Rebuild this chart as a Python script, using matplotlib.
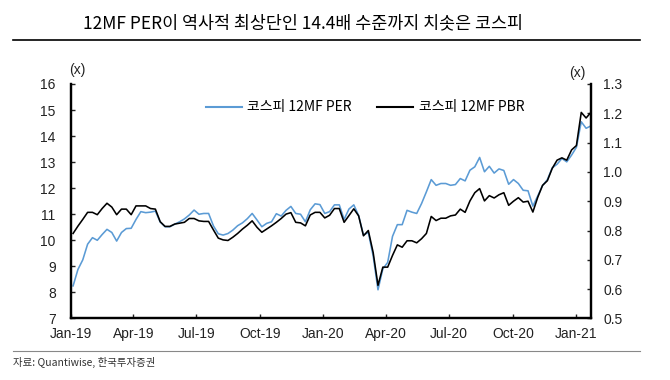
import matplotlib
matplotlib.use("Agg")
import matplotlib.pyplot as plt
from matplotlib.lines import Line2D
import pandas as pd

plt.rcParams['font.family'] = ['Noto Sans CJK KR', 'DejaVu Sans']

# weekly data, 2019-01-04 .. 2021-01-22
dates = pd.date_range('2019-01-04', periods=108, freq='7D')

per = [8.25, 8.88, 9.25, 9.85, 10.1, 10.0, 10.22, 10.42, 10.3, 9.97,
       10.3, 10.45, 10.46, 10.8, 11.1, 11.06, 11.08, 11.12, 10.7, 10.52,
       10.52, 10.62, 10.71, 10.82, 10.97, 11.16, 11.0, 11.03, 11.03, 10.55,
       10.25, 10.2, 10.26, 10.39, 10.56, 10.67, 10.83, 11.03, 10.78, 10.52,
       10.65, 10.71, 11.02, 10.93, 11.15, 11.3, 11.03, 11.0, 10.71, 11.17,
       11.4, 11.37, 11.03, 11.1, 11.36, 11.36, 10.8, 11.2, 11.36, 10.95,
       10.2, 10.3, 9.4, 8.1, 8.9, 9.15, 10.15, 10.6, 10.6, 11.15,
       11.08, 11.03, 11.41, 11.86, 12.33, 12.11, 12.18, 12.18, 12.11, 12.14,
       12.37, 12.28, 12.69, 12.82, 13.18, 12.63, 12.84, 12.58, 12.74, 12.68,
       12.15, 12.33, 12.18, 11.92, 11.9, 11.31, 11.7, 12.1, 12.33, 12.78,
       12.92, 13.14, 13.01, 13.27, 13.57, 14.55, 14.3, 14.39]

pbr = [0.79, 0.815, 0.838, 0.862, 0.862, 0.854, 0.875, 0.893, 0.88, 0.854,
       0.873, 0.873, 0.854, 0.884, 0.884, 0.884, 0.875, 0.873, 0.83, 0.814,
       0.814, 0.822, 0.825, 0.828, 0.841, 0.841, 0.833, 0.831, 0.831, 0.802,
       0.774, 0.768, 0.766, 0.777, 0.79, 0.805, 0.818, 0.833, 0.811, 0.794,
       0.805, 0.816, 0.828, 0.841, 0.856, 0.861, 0.828, 0.826, 0.816, 0.853,
       0.862, 0.862, 0.843, 0.852, 0.875, 0.875, 0.828, 0.851, 0.874, 0.85,
       0.782, 0.80, 0.725, 0.613, 0.675, 0.675, 0.715, 0.751, 0.743, 0.765,
       0.765, 0.758, 0.772, 0.79, 0.848, 0.834, 0.842, 0.842, 0.85, 0.853,
       0.873, 0.862, 0.901, 0.929, 0.943, 0.901, 0.919, 0.911, 0.922, 0.929,
       0.886, 0.9, 0.912, 0.897, 0.9, 0.863, 0.913, 0.954, 0.97, 1.012,
       1.04, 1.048, 1.04, 1.075, 1.09, 1.203, 1.184, 1.203]

xticks = pd.date_range('2019-01-01', '2021-01-01', freq='QS')
xlabels = ['Jan-19', 'Apr-19', 'Jul-19', 'Oct-19', 'Jan-20',
           'Apr-20', 'Jul-20', 'Oct-20', 'Jan-21']

blue = '#5b9bd5'
tickfont = ['Liberation Sans', 'DejaVu Sans']

fig = plt.figure(figsize=(6.7, 3.8), dpi=100)
ax = fig.add_axes([0.106, 0.162, 0.776, 0.617])
ax2 = ax.twinx()

ax.plot(dates, per, color=blue, lw=1.15)
ax2.plot(dates, pbr, color='black', lw=1.15)

ax.set_xlim(pd.Timestamp('2019-01-01'), pd.Timestamp('2021-01-22'))
ax.set_ylim(7, 16)
ax2.set_ylim(0.5, 1.3)
ax.set_yticks(range(7, 17))
ax2.set_yticks([0.5 + 0.1 * i for i in range(9)])
ax2.yaxis.set_major_formatter(matplotlib.ticker.FormatStrFormatter('%.1f'))
ax.set_xticks(xticks)
ax.set_xticklabels(xlabels)

for a in (ax, ax2):
    a.spines['top'].set_visible(False)
    for s in ('left', 'right', 'bottom'):
        a.spines[s].set_linewidth(1.6)
    a.tick_params(direction='in', length=3, width=1, labelsize=10,
                  colors='#222222')
    for lab in a.get_xticklabels() + a.get_yticklabels():
        lab.set_family(tickfont)
ax.tick_params(axis='y', pad=11)
ax.tick_params(axis='x', pad=6)
ax2.tick_params(axis='y', pad=9)

fig.text(0.116, 0.815, '(x)', ha='center', va='center', fontsize=10,
         family=tickfont, color='#222222')
fig.text(0.861, 0.808, '(x)', ha='center', va='center', fontsize=10,
         family=tickfont, color='#222222')

handles = [Line2D([], [], color=blue, lw=1.5), Line2D([], [], color='black', lw=1.5)]
ax.legend(handles, ['코스피 12MF PER', '코스피 12MF PBR'], loc='center left',
          bbox_to_anchor=(0.235, 0.9), ncol=2, frameon=False, fontsize=10,
          handlelength=2.6, handletextpad=0.4, columnspacing=1.8)

fig.text(0.124, 0.939, '12MF PER이 역사적 최상단인 14.4배 수준까지 치솟은 코스피',
         ha='left', va='center', fontsize=12.5)
fig.add_artist(Line2D([0.019, 0.955], [0.896, 0.896], color='black', lw=1.2))
fig.add_artist(Line2D([0.019, 0.955], [0.076, 0.076], color='#888888', lw=0.8))
fig.text(0.019, 0.045, '자료: Quantiwise, 한국투자증권', ha='left', va='center',
         fontsize=7.5, color='#333333')

fig.savefig('out.png', dpi=100)
